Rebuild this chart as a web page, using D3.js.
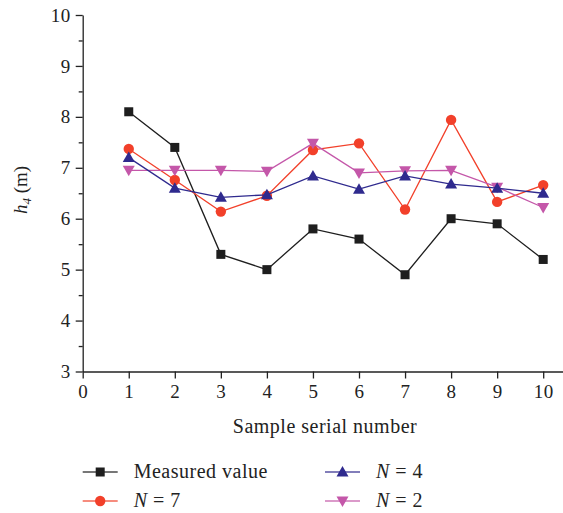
<!DOCTYPE html>
<html>
<head>
<meta charset="utf-8">
<script src="https://cdn.jsdelivr.net/npm/d3@7"></script>
<style>
  body { margin: 0; background: #fff; }
  svg text { font-family: "Liberation Serif", "DejaVu Serif", serif; fill: #222; }
</style>
</head>
<body>
<svg id="chart" width="563" height="513"></svg>
<script>
var samples = [1, 2, 3, 4, 5, 6, 7, 8, 9, 10];
var measured = [8.1, 7.4, 5.3, 5.0, 5.8, 5.6, 4.9, 6.0, 5.9, 5.2];
var n7 = [7.37, 6.76, 6.14, 6.45, 7.35, 7.48, 6.18, 7.94, 6.33, 6.66];
var n4 = [7.2, 6.6, 6.42, 6.47, 6.84, 6.58, 6.84, 6.68, 6.6, 6.5];
var n2 = [6.95, 6.95, 6.95, 6.93, 7.48, 6.9, 6.94, 6.95, 6.62, 6.22];
var xTicks = [0, 1, 2, 3, 4, 5, 6, 7, 8, 9, 10];
var yTicks = [3, 4, 5, 6, 7, 8, 9, 10];

var series = [
  { name: "Measured value", values: measured, color: "#1e1e1e", sym: "square" },
  { name: "N = 7", values: n7, color: "#f2402a", sym: "circle" },
  { name: "N = 4", values: n4, color: "#2f2a8e", sym: "up" },
  { name: "N = 2", values: n2, color: "#c457a9", sym: "down" }
];

var svg = d3.select("#chart");
var x = d3.scaleLinear().domain([0, 10.43]).range([82.7, 563]);
var y = d3.scaleLinear().domain([3, 10]).range([371.5, 15]);

// y axis with minor ticks
svg.append("g")
  .attr("transform", "translate(82.7,0)")
  .call(d3.axisLeft(y).tickValues(d3.range(3.5, 10, 1)).tickSize(4).tickFormat(""))
  .call(function(g) { g.select(".domain").remove(); });
var ya = svg.append("g")
  .attr("transform", "translate(82.7,0)")
  .call(d3.axisLeft(y).tickValues(yTicks).tickSize(7).tickSizeOuter(0).tickPadding(5).tickFormat(d3.format("d")));
ya.selectAll("text").style("font-size", "19px").style("letter-spacing", "0.5px");

var xa = svg.append("g")
  .attr("transform", "translate(0,371.5)")
  .call(d3.axisBottom(x).tickValues(xTicks).tickSize(7).tickSizeOuter(0).tickPadding(6).tickFormat(d3.format("d")));
xa.selectAll("text").style("font-size", "19px").style("letter-spacing", "0.5px");
svg.selectAll(".domain, .tick line").attr("stroke", "#222").attr("stroke-width", 1.3);

// axis titles
svg.append("text")
  .attr("x", 325).attr("y", 433)
  .attr("text-anchor", "middle")
  .style("font-size", "20px").style("letter-spacing", "0.5px")
  .text("Sample serial number");

var yt = svg.append("text")
  .attr("transform", "translate(27,190) rotate(-90)")
  .attr("text-anchor", "middle")
  .style("font-size", "19px");
yt.append("tspan").style("font-style", "italic").text("h");
yt.append("tspan").attr("dy", 4).style("font-size", "13px").style("font-style", "italic").text("4");
yt.append("tspan").attr("dy", -4).text(" (m)");

function drawMarker(g, sym, color, cx, cy) {
  if (sym == "square") {
    g.append("rect").attr("x", cx - 4.5).attr("y", cy - 4.5).attr("width", 9).attr("height", 9).attr("fill", color);
  } else if (sym == "circle") {
    g.append("circle").attr("cx", cx).attr("cy", cy).attr("r", 5.2).attr("fill", color);
  } else if (sym == "up") {
    g.append("path").attr("d", "M" + cx + "," + (cy - 6) + "L" + (cx + 6) + "," + (cy + 4.5) + "L" + (cx - 6) + "," + (cy + 4.5) + "Z").attr("fill", color);
  } else {
    g.append("path").attr("d", "M" + cx + "," + (cy + 6) + "L" + (cx + 6) + "," + (cy - 4.5) + "L" + (cx - 6) + "," + (cy - 4.5) + "Z").attr("fill", color);
  }
}

var line = d3.line().x(function(d, i) { return x(samples[i]); }).y(function(d) { return y(d); });

var drawOrder = [0, 1, 3, 2];
drawOrder.forEach(function(k) {
  var s = series[k];
  var g = svg.append("g");
  g.append("path").datum(s.values)
    .attr("d", line).attr("fill", "none")
    .attr("stroke", s.color).attr("stroke-width", 1.3);
  s.values.forEach(function(v, i) { drawMarker(g, s.sym, s.color, x(samples[i]), y(v)); });
});

// legend
var legendPos = [[82.7, 472], [82.7, 501], [325, 472], [325, 501]];
series.forEach(function(s, k) {
  var lx = legendPos[k][0], ly = legendPos[k][1];
  var g = svg.append("g");
  g.append("line").attr("x1", lx).attr("x2", lx + 35).attr("y1", ly).attr("y2", ly)
    .attr("stroke", s.color).attr("stroke-width", 1.3).attr("opacity", 0.8);
  drawMarker(g, s.sym, s.color, lx + 17.5, ly);
  var t = g.append("text").attr("x", lx + 51).attr("y", ly + 6)
    .style("font-size", "20px").style("letter-spacing", "0.5px");
  if (k == 0) {
    t.text(s.name);
  } else {
    t.append("tspan").style("font-style", "italic").text("N");
    t.append("tspan").text(" = " + s.name.split("= ")[1]);
  }
});
</script>
</body>
</html>
